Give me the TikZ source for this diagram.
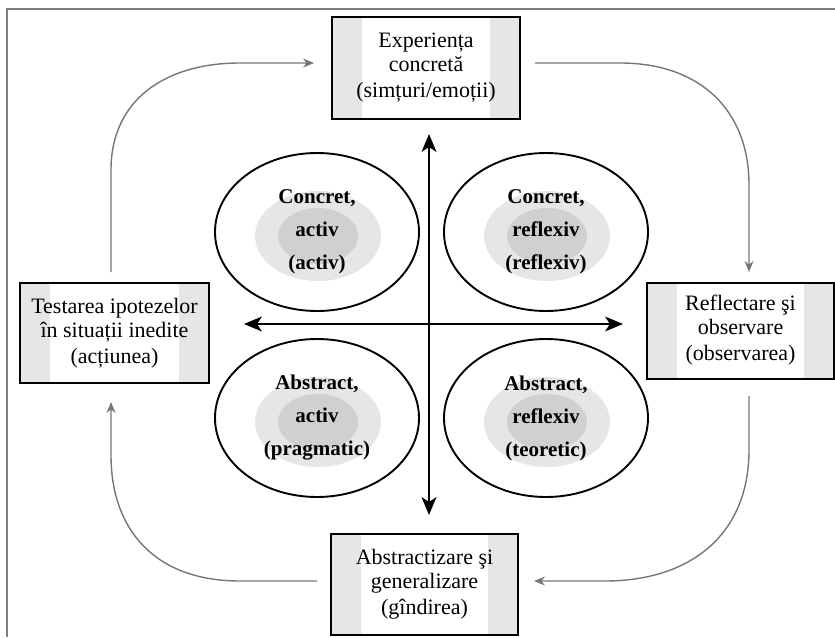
\documentclass[tikz,border=0pt]{standalone}
\usepackage{fontspec}
\setmainfont{Liberation Serif}
\usetikzlibrary{arrows.meta,shapes.geometric}
\definecolor{bandgray}{HTML}{E6E6E6}
\definecolor{arcgray}{HTML}{767676}
\definecolor{framegray}{HTML}{808080}
\definecolor{haloA}{HTML}{E6E6E6}
\definecolor{haloB}{HTML}{D0D0D0}
\begin{document}
\begin{tikzpicture}[x=1pt,y=-1pt,
  stagebox/.style={draw=black, line width=2pt, inner sep=0pt, align=center,
    font=\fontsize{22}{24}\selectfont,
    path picture={
      \fill[bandgray] (path picture bounding box.south west) rectangle ([xshift=30pt]path picture bounding box.north west);
      \fill[bandgray] ([xshift=-30pt]path picture bounding box.south east) rectangle (path picture bounding box.north east);
    }},
  quad/.style={draw=black, line width=1.9pt, ellipse, inner sep=0pt,
    minimum width=204pt, minimum height=158pt, align=center,
    font=\bfseries\fontsize{21}{33}\selectfont},
  halo/.style={fill=haloA},
  core/.style={fill=haloB},
  axis/.style={draw=black, line width=1.8pt, {Stealth[length=18pt,width=15pt,inset=5pt]}-{Stealth[length=18pt,width=15pt,inset=5pt]}},
  cycle/.style={draw=arcgray, line width=1.4pt, -{Stealth[length=11pt,width=9pt]}}
]
\useasboundingbox (0,0) rectangle (835,637);
\draw[framegray, line width=1.2pt] (7,637) -- (7,9) -- (835,9);

% halos
\foreach \cx/\cy in {318/236, 547/236, 318/422, 547/422}{
  \fill[halo] (\cx,\cy) ellipse [x radius=63pt, y radius=45pt];
  \fill[core] (\cx,\cy) ellipse [x radius=40pt, y radius=28pt];
}

% stage boxes
\node[stagebox, minimum width=188pt, minimum height=102pt] (top) at (426,68)
  {Experiența\\concretă\\[2pt](simțuri/emoții)};
\node[stagebox, minimum width=189pt, minimum height=100pt] (left) at (114.5,333)
  {Testarea ipotezelor\\în situații inedite\\[2pt](acțiunea)};
\node[stagebox, minimum width=187pt, minimum height=96pt] (right) at (740.5,330.5)
  {Reflectare şi\\observare\\[2pt](observarea)};
\node[stagebox, minimum width=187pt, minimum height=101pt] (bottom) at (424.5,584.5)
  {Abstractizare şi\\generalizare\\[2pt](gîndirea)};

% quadrant ellipses
\node[quad] (ca) at (317,232) {Concret,\\activ\\(activ)};
\node[quad] (cr) at (546,232) {Concret,\\reflexiv\\(reflexiv)};
\node[quad] (aa) at (317,418) {Abstract,\\activ\\(pragmatic)};
\node[quad] (ar) at (546,418) {Abstract,\\reflexiv\\(teoretic)};

% axes
\coordinate (vt) at (429,134);
\coordinate (vb) at (429,515);
\coordinate (hl) at (244,324);
\coordinate (hr) at (623,324);
\draw[axis] (vb) -- (vt);
\draw[axis] (hl) -- (hr);

% learning cycle
\coordinate (c1s) at (111,272);
\coordinate (c1e) at (314,63);
\coordinate (c2s) at (535,63);
\coordinate (c2e) at (749,272);
\coordinate (c3s) at (749,396);
\coordinate (c3e) at (534,581);
\coordinate (c4s) at (317,581);
\coordinate (c4e) at (111,402);
\draw[cycle] (c1s) -- (111,170) .. controls (111,100) and (165,63) .. (240,63) -- (c1e);
\draw[cycle] (c2s) -- (620,63) .. controls (700,63) and (749,110) .. (749,185) -- (c2e);
\draw[cycle] (c3s) -- (749,450) .. controls (749,535) and (690,581) .. (605,581) -- (c3e);
\draw[cycle] (c4s) -- (240,581) .. controls (155,581) and (111,530) .. (111,455) -- (c4e);
\end{tikzpicture}
\end{document}
